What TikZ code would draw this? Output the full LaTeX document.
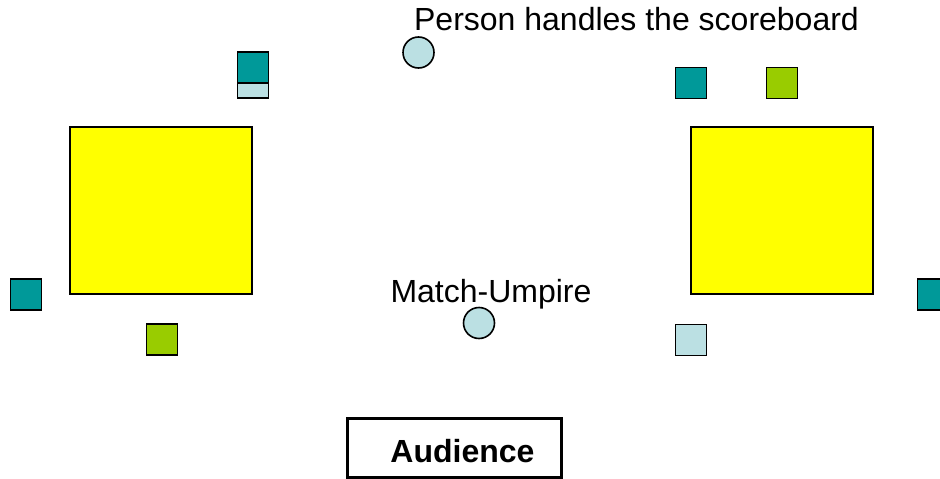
\documentclass[tikz,border=0pt]{standalone}
\usepackage{fontspec}
\setmainfont{Liberation Sans}
\usepackage{xcolor}
\definecolor{tealbox}{HTML}{009999}
\definecolor{lightbox}{HTML}{BBE0E3}
\definecolor{limebox}{HTML}{99CC00}
\definecolor{tablebox}{HTML}{FFFF00}
\begin{document}
\begin{tikzpicture}[x=1pt,y=-1pt]
\tikzset{every node/.style={inner sep=0pt,outer sep=0pt}}
\tikzset{table/.style = {draw,line width=1.2pt,fill=tablebox,minimum width=182pt,minimum height=167pt}}
\tikzset{player/.style = {draw,line width=1.6pt,minimum size=31pt}}
\tikzset{official/.style = {circle,draw,line width=1.6pt,fill=lightbox,minimum size=31pt}}
\tikzset{label/.style = {anchor=base,font=\fontsize{32}{38}\selectfont}}
\clip (0,0) rectangle (940,479);
% tables
\node[table] (tleft) at (161,210.5) {};
\node[table] (tright) at (782,210.5) {};
% players
\node[player,fill=tealbox] (p1) at (253,67.5) {};
\node[player,fill=lightbox,minimum height=15.5pt] (p2) at (253,90.5) {};
\node[player,fill=tealbox] (p3) at (691,83) {};
\node[player,fill=limebox] (p4) at (782,83) {};
\node[player,fill=tealbox] (p5) at (26,294.5) {};
\node[player,fill=limebox] (p6) at (162,339.5) {};
\node[player,fill=lightbox] (p7) at (691,340) {};
\node[player,fill=tealbox] (p8) at (933,294.5) {};
% officials
\node[official] (score) at (418.5,52.5) {};
\node[official] (umpire) at (479,323) {};
\node[label] (scoretext) at (636.5,30) {Person handles the scoreboard};
\node[label] (umpiretext) at (491,302) {Match-Umpire};
% audience
\node[draw,line width=2.4pt,minimum width=214pt,minimum height=59pt] (audience) at (454.5,447.8) {};
\node[label,font=\fontsize{32}{38}\selectfont\bfseries] (audtext) at (462.5,462) {Audience};
\end{tikzpicture}
\end{document}
